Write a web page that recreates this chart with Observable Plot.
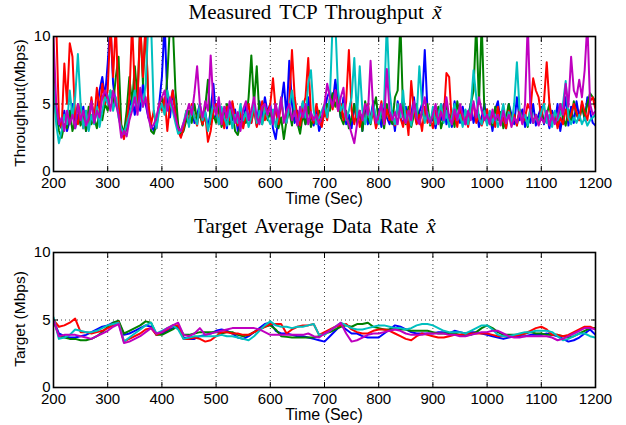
<!DOCTYPE html>
<html><head><meta charset="utf-8">
<script src="https://cdn.jsdelivr.net/npm/d3@7"></script>
<script src="https://cdn.jsdelivr.net/npm/@observablehq/plot@0.6"></script>
<style>
body{margin:0;background:#fff;}
#wrap{position:relative;width:626px;height:425px;overflow:hidden;font-family:"Liberation Sans",Arial,sans-serif;color:#000;}
.plot{position:absolute;left:0;}
.title{position:absolute;left:0;width:630px;text-align:center;font-family:"Liberation Serif","Times New Roman",serif;font-size:21px;line-height:20px;word-spacing:3px;white-space:nowrap;z-index:2;}
.xlab{position:absolute;left:0;width:648px;text-align:center;font-size:16px;line-height:14px;z-index:2;}
.ylab{position:absolute;width:200px;text-align:center;font-size:15.5px;line-height:16px;transform:rotate(-90deg);transform-origin:50% 50%;white-space:nowrap;z-index:2;}
</style>
</head><body>
<div id="wrap"></div>
<script>
// ---- data ----
const seriesNames = ["flow 1", "flow 2", "flow 3", "flow 4", "flow 5"];
const seriesColors = ["#0000ff", "#008000", "#ff0000", "#00bfbf", "#bf00bf"];
const xTicks = [200, 300, 400, 500, 600, 700, 800, 900, 1000, 1100, 1200];
const yTicks = [0, 5, 10];
const timeStart = 200;
const topStep = 5;     // seconds between samples, top panel
const bottomStep = 10; // seconds between samples, bottom panel

// Measured TCP throughput (Mbps), top panel
const topBlue = [6.5,4.0,3.5,3.2,4.5,3.0,3.8,5.0,3.2,4.2,3.5,4.8,3.0,4.0,5.2,3.6,4.5,6.0,7.0,5.5,
 8.0,11,6.5,5.0,4.5,3.0,2.6,3.2,4.8,5.5,4.2,6.0,4.5,6.5,5.0,4.0,3.5,3.0,3.8,5.0,
 7.0,11,5.5,4.0,6.0,4.5,3.0,2.6,3.2,4.0,3.5,4.8,3.6,4.2,5.0,3.5,4.4,3.2,4.5,6.5,
 4.0,5.2,3.6,4.5,3.2,5.0,3.8,4.6,3.0,4.2,3.5,5.0,4.0,3.6,4.8,3.4,5.2,4.0,5.5,4.4,
 5.0,3.2,2.4,4.0,5.0,6.6,4.0,8.2,5.0,3.6,4.5,3.3,4.8,3.5,5.5,4.2,3.4,4.6,3.0,3.6,
 4.5,5.5,6.0,5.0,6.8,5.2,4.0,5.5,3.5,4.2,3.2,5.0,3.6,4.4,3.0,4.8,3.5,4.0,5.2,3.4,
 4.6,3.3,5.0,4.0,3.5,4.5,3.0,5.2,4.0,3.5,4.8,3.2,4.2,5.5,3.6,4.4,5.0,9.0,4.5,3.5,
 4.0,3.2,4.6,3.8,5.0,3.5,4.2,3.3,5.2,4.0,3.6,4.8,3.5,4.2,5.0,3.6,4.5,3.3,4.0,5.0,
 3.5,4.2,3.0,4.6,5.2,3.6,4.0,3.2,5.0,4.2,3.5,5.5,3.8,4.6,3.3,4.0,3.6,5.0,3.4,4.2,
 4.8,3.5,4.2,3.2,4.5,3.6,5.0,3.0,4.2,5.5,3.4,4.8,3.6,5.2,4.0,5.0,3.8,5.5,4.4,3.6,
 3.4];
const topGreen = [7.5,4.5,3.0,2.5,3.5,3.2,4.5,3.0,3.8,5.0,3.4,4.2,3.0,4.8,3.5,4.0,3.2,4.5,3.8,5.0,
 4.5,6.0,5.0,7.0,8.5,3.5,2.8,4.5,7.0,5.0,7.8,5.5,11,6.5,11,5.0,3.0,2.8,3.5,4.8,
 5.5,4.5,7.0,11,11,6.0,3.5,2.7,3.0,3.8,4.5,3.6,5.0,3.8,4.2,3.4,4.8,6.8,3.5,4.2,
 3.6,4.8,3.3,4.0,5.0,3.5,4.5,3.0,2.7,3.5,4.2,3.6,5.5,8.6,5.0,7.8,4.0,3.5,4.6,3.8,
 4.4,3.5,5.0,3.2,4.0,2.4,3.8,4.5,3.4,5.2,3.6,2.8,4.2,3.5,4.8,3.3,4.0,3.6,4.5,3.8,
 4.2,5.0,4.5,5.8,4.8,5.5,4.0,3.5,4.5,3.2,4.0,5.0,3.6,4.5,3.0,5.2,4.0,3.5,4.6,5.5,
 3.6,4.4,3.2,5.0,4.0,3.5,5.5,6.0,11,4.5,3.5,4.8,3.3,4.2,5.0,3.6,4.5,3.8,5.0,3.4,
 4.2,3.6,4.8,3.2,4.0,5.0,3.5,4.4,3.3,5.2,4.0,3.6,4.5,3.8,5.0,6.0,11,5.0,11,4.5,
 3.6,4.2,3.4,4.8,3.8,4.4,3.2,4.0,5.0,3.6,4.2,3.4,4.6,3.8,4.2,3.3,4.8,3.6,4.2,3.5,
 4.5,3.6,4.2,5.0,3.5,4.4,3.6,5.0,4.0,3.4,4.6,3.8,5.2,4.2,3.8,4.8,4.0,5.0,5.8,5.5,
 5.2];
const topRed = [11,11,4.0,3.2,8.0,5.0,9.5,8.5,4.0,3.5,5.0,3.2,4.5,3.6,5.5,3.8,6.2,4.5,6.5,5.0,
 6.0,11,7.0,11,5.0,3.0,2.4,3.5,5.5,11,6.0,5.0,11,7.0,11,5.0,3.5,4.5,3.2,5.0,
 4.5,5.5,3.0,5.0,6.0,4.2,3.0,2.5,3.2,4.5,3.6,5.0,4.0,3.4,4.8,3.5,4.2,2.2,3.0,4.5,
 5.0,3.5,4.4,3.2,4.8,3.8,5.2,4.0,3.4,4.5,3.2,4.2,5.0,3.6,4.6,3.3,4.0,5.2,3.8,4.4,
 5.0,6.9,4.5,3.5,5.2,4.0,3.6,5.0,9.0,5.5,4.0,3.4,4.8,5.5,8.4,4.2,3.6,5.0,4.0,3.3,
 4.5,3.8,5.5,4.6,6.0,4.5,5.0,3.8,5.2,9.0,4.5,3.5,4.8,3.3,4.2,3.6,5.0,3.8,4.4,3.2,
 4.0,5.2,3.5,4.6,3.8,4.2,3.4,5.0,4.0,3.3,4.5,2.7,6.7,4.5,3.5,4.2,3.0,4.8,3.6,4.0,
 3.2,4.5,3.6,5.0,4.0,7.3,7.0,3.5,4.2,3.3,4.8,3.8,4.2,3.3,4.5,5.0,3.6,4.2,3.4,4.0,
 4.6,3.5,4.2,3.3,4.8,3.6,4.0,3.2,4.5,3.8,4.2,3.4,4.6,3.6,4.0,5.0,4.5,6.9,6.0,5.5,
 4.0,5.2,8.1,5.0,3.8,4.4,3.2,4.0,3.5,4.6,3.8,4.2,5.0,4.4,3.8,5.2,4.4,3.8,5.2,5.5,
 4.6];
const topCyan = [6.5,3.5,2.1,3.0,4.2,3.5,6.0,4.0,5.5,8.7,5.0,3.2,4.5,3.0,4.2,3.5,4.8,3.3,4.5,5.5,
 5.0,6.0,4.5,5.5,4.0,3.2,2.8,3.5,4.2,5.0,6.0,4.5,5.5,4.8,6.5,11,11,4.5,3.2,4.5,
 5.0,4.2,6.0,5.0,4.5,3.6,2.8,3.0,3.6,4.5,3.3,4.8,4.0,3.5,5.0,3.8,4.4,3.0,4.0,5.0,
 4.5,3.5,4.8,4.0,3.4,4.6,3.2,4.2,3.6,5.0,3.8,4.4,3.3,4.0,5.0,3.6,4.5,3.5,4.8,4.0,
 3.5,4.6,3.3,4.2,5.5,4.0,3.6,4.8,6.0,4.5,3.5,4.2,5.2,4.0,6.5,7.5,4.5,3.5,4.0,4.5,
 5.0,4.0,5.5,11,11,6.0,4.5,5.0,3.8,4.5,5.5,8.4,4.0,7.8,4.5,3.5,4.8,3.6,5.0,4.0,
 3.5,4.5,5.0,11,6.0,4.2,3.5,5.0,4.0,6.0,3.6,4.5,3.4,5.0,4.0,7.8,5.0,3.6,4.4,3.5,
 4.8,3.5,4.2,5.0,3.6,4.5,3.3,4.0,5.0,3.8,4.2,3.3,4.6,3.5,4.8,7.5,5.5,4.0,3.5,4.5,
 3.4,4.5,3.6,4.2,3.3,4.0,5.0,3.6,4.4,3.5,5.0,8.1,4.5,3.8,4.2,3.4,4.6,3.6,4.0,3.5,
 4.4,5.0,3.6,4.2,3.3,4.5,3.8,4.2,5.0,6.7,4.0,3.5,4.0,3.6,4.2,3.5,4.0,3.4,3.8,4.0,
 4.2];
const topMagenta = [10,5.0,3.5,4.0,3.0,4.5,3.5,4.2,3.2,5.0,3.8,4.5,3.4,4.0,5.2,3.6,4.5,4.0,5.5,6.0,
 5.5,4.5,6.0,5.0,4.2,2.5,3.0,2.6,3.8,4.5,5.5,4.2,6.2,4.8,5.5,4.0,3.2,3.5,4.0,5.0,
 5.5,6.0,4.5,5.5,4.8,4.0,3.2,3.0,3.6,4.2,5.0,4.2,5.8,7.8,5.0,4.0,5.2,4.5,8.6,5.0,
 4.2,5.5,3.5,4.8,4.0,5.2,4.5,3.6,4.4,3.0,4.6,5.2,3.8,4.5,5.5,4.0,3.5,4.8,5.0,4.2,
 4.8,3.5,5.0,4.0,5.5,3.6,4.5,5.0,3.8,4.5,3.4,4.8,4.0,5.0,3.5,4.4,3.8,4.2,3.5,4.0,
 5.0,6.5,5.5,4.8,6.0,4.5,5.5,6.2,4.0,3.5,2.8,2.1,3.5,4.5,3.8,5.0,4.2,8.2,4.5,3.6,
 4.2,5.0,3.5,7.6,4.5,3.8,4.4,3.5,5.0,4.0,3.6,4.5,3.8,5.2,4.0,3.5,4.5,5.5,4.0,3.6,
 4.2,5.0,3.5,4.4,3.8,5.5,4.0,3.5,4.6,3.8,5.0,4.2,3.5,4.5,3.8,5.2,4.0,5.5,4.5,3.8,
 4.2,3.5,4.6,3.8,4.2,3.4,4.5,3.6,4.2,3.3,4.0,3.6,4.4,3.5,5.0,11,4.5,3.6,4.2,3.4,
 4.0,3.6,4.5,3.4,4.2,3.5,4.0,5.0,4.2,6.5,4.8,8.5,6.0,5.5,6.8,5.5,7.5,11,5.0,4.2,
 4.5];

// Target average data rate (Mbps), bottom panel
const botBlue = [5.0,4.0,3.8,3.7,3.7,3.8,3.9,4.1,4.3,4.5,
 4.6,4.8,4.9,3.9,4.0,4.2,4.4,4.6,4.5,3.9,
 4.0,4.2,4.4,4.5,3.7,3.6,3.6,3.8,3.9,4.0,
 4.2,4.3,4.2,4.0,3.7,3.6,3.8,4.1,4.4,4.7,
 4.8,4.2,4.0,4.0,3.9,3.8,3.8,3.7,3.6,3.5,
 3.4,3.8,4.2,4.6,4.3,4.0,4.0,3.8,3.7,3.7,
 3.7,4.0,4.3,4.6,4.5,4.3,4.1,4.0,4.0,4.0,
 4.0,4.1,4.1,4.0,4.2,4.1,4.0,4.1,4.1,4.0,
 3.9,3.8,3.7,3.6,3.7,3.8,3.8,3.8,3.9,3.9,
 3.9,4.0,3.9,3.8,3.6,3.4,3.5,3.7,4.0,4.3,
 3.9];
const botGreen = [5.0,3.8,3.7,3.6,3.6,3.5,3.5,3.6,3.8,4.1,
 4.5,4.8,4.95,4.0,4.2,4.4,4.6,4.9,4.8,3.9,
 3.9,4.1,4.3,4.6,3.9,3.9,4.0,4.1,4.1,4.1,
 4.1,4.0,4.1,4.1,3.9,3.8,3.9,4.1,4.3,4.5,
 4.6,4.3,3.8,3.75,3.7,3.7,3.7,3.7,3.7,3.8,
 4.0,4.1,4.3,4.5,4.6,4.5,4.7,4.7,4.8,4.5,
 4.4,4.3,4.3,4.4,4.3,4.3,4.2,4.2,4.2,4.2,
 4.1,4.0,4.0,4.0,4.0,3.9,3.85,3.9,4.1,4.4,
 4.6,4.4,4.1,3.9,3.9,3.9,3.9,4.0,4.1,4.0,
 4.0,3.9,3.9,3.9,3.8,3.7,3.8,4.0,4.2,4.4,
 4.4];
const botRed = [5.0,4.5,4.6,4.8,5.1,4.1,4.1,4.0,4.1,4.2,
 4.4,4.6,4.85,3.4,3.6,3.8,4.0,4.3,4.4,3.9,
 4.1,4.3,4.6,4.6,3.6,3.6,3.7,3.6,3.4,3.5,
 3.8,4.1,4.1,4.0,4.0,3.9,3.9,4.1,4.3,4.5,
 4.7,4.7,4.7,4.0,4.3,4.5,4.6,4.6,4.7,3.9,
 4.1,4.3,4.5,4.6,4.7,4.3,4.1,4.0,4.0,4.2,
 4.3,4.3,4.2,4.0,3.8,3.6,3.5,3.8,4.0,3.9,
 3.8,3.7,3.7,3.8,3.9,3.9,4.0,4.0,4.0,4.0,
 4.0,3.9,3.8,3.8,3.8,3.8,3.9,4.0,4.2,4.4,
 4.5,4.3,3.9,3.9,3.8,3.9,4.1,4.3,4.5,4.5,
 4.3];
const botCyan = [5.2,3.6,3.7,3.9,4.3,4.2,4.1,4.1,4.2,4.4,
 4.6,4.7,4.8,3.4,3.7,4.0,4.3,4.6,4.8,4.0,
 4.2,4.4,4.6,4.3,3.6,3.7,3.8,3.8,3.8,3.8,
 3.8,3.9,3.8,3.8,3.7,3.6,3.5,3.8,4.2,4.6,
 4.9,4.6,4.5,4.5,4.4,4.5,4.5,4.6,4.7,3.9,
 3.9,4.2,4.5,4.8,4.6,4.4,4.3,4.3,4.4,4.5,
 4.6,4.6,4.5,4.4,4.4,4.3,4.4,4.6,4.7,4.7,
 4.6,4.4,4.2,4.1,4.1,4.1,4.0,4.2,4.4,4.6,
 4.6,4.3,3.9,3.8,3.8,3.9,4.0,4.1,4.1,4.2,
 4.2,4.2,4.1,3.8,3.5,3.6,3.8,4.0,4.0,3.8,
 3.7];
const botMagenta = [5.0,3.8,3.9,3.9,3.9,3.8,3.7,3.6,3.8,4.0,
 4.2,4.5,4.7,3.3,3.4,3.6,3.8,4.1,4.4,4.0,
 4.1,4.4,4.6,4.8,3.9,3.8,4.0,4.4,3.9,4.0,
 4.1,4.2,4.3,4.4,4.4,4.4,4.4,4.4,4.3,4.1,
 3.9,3.9,3.9,3.9,3.9,3.9,3.9,4.0,3.8,3.7,
 4.0,4.2,4.5,4.8,4.0,3.4,3.5,3.7,3.9,4.0,
 4.0,4.1,4.2,4.3,4.2,4.0,3.9,3.9,3.9,4.0,
 4.0,4.0,4.0,3.9,3.9,3.8,3.8,3.9,4.0,4.1,
 4.1,4.2,4.2,4.0,3.8,3.7,3.7,3.8,3.8,3.8,
 3.8,3.8,3.7,3.5,3.6,3.8,4.0,4.2,4.4,4.4,
 4.3];

// ---- build ----
function toRows(arrs, step) {
  const out = [];
  arrs.forEach((a, k) => a.forEach((v, i) => out.push({t: timeStart + step * i, v, s: seriesNames[k]})));
  return out;
}

function chart(data, h, mt, mb) {
  return Plot.plot({
    width: 626, height: h,
    marginTop: mt, marginBottom: mb, marginLeft: 53, marginRight: 31,
    x: {domain: [200, 1200]},
    y: {domain: [0, 10]},
    color: {type: "ordinal", domain: seriesNames, range: seriesColors},
    style: {fontFamily: '"Liberation Sans", Arial, sans-serif', fontSize: "15px", color: "#000", background: "transparent", overflow: "visible"},
    marks: [
      Plot.gridX(xTicks.slice(1, -1), {stroke: "#444", strokeOpacity: 1, strokeDasharray: "1,3"}),
      Plot.gridY([5], {stroke: "#444", strokeOpacity: 1, strokeDasharray: "1,3"}),
      Plot.lineY(data, {x: "t", y: "v", z: "s", stroke: "s", strokeWidth: 2, clip: true}),
      Plot.axisX(xTicks, {anchor: "bottom", tickSize: -5, tickPadding: 11, tickFormat: d => String(d), label: null}),
      Plot.axisX(xTicks, {anchor: "top", tickSize: -5, tickFormat: () => "", label: null}),
      Plot.axisY(yTicks, {anchor: "left", tickSize: -5, tickPadding: 8, tickFormat: d => String(d), label: null}),
      Plot.axisY(yTicks, {anchor: "right", tickSize: -5, tickFormat: () => "", label: null}),
      Plot.frame({stroke: "#000", strokeWidth: 1.6})
    ]
  });
}

const wrap = document.getElementById("wrap");
const p1 = chart(toRows([topBlue, topGreen, topRed, topCyan, topMagenta], topStep), 212, 36, 41);
p1.classList.add("plot"); p1.style.top = "0px";
const p2 = chart(toRows([botBlue, botGreen, botRed, botCyan, botMagenta], bottomStep), 212, 39, 38);
p2.classList.add("plot"); p2.style.top = "213px";
wrap.appendChild(p1);
wrap.appendChild(p2);

function addDiv(cls, html, css) {
  const d = document.createElement("div");
  d.className = cls; d.innerHTML = html;
  Object.assign(d.style, css);
  wrap.appendChild(d);
}
addDiv("title", "Measured TCP Throughput <i>x&#x303;</i>", {top: "2px"});
addDiv("title", "Target Average Data Rate <i>x&#x302;</i>", {top: "216px"});
addDiv("xlab", "Time (Sec)", {top: "192px"});
addDiv("xlab", "Time (Sec)", {top: "408px"});
addDiv("ylab", "Throughput(Mbps)", {left: "-80px", top: "95px"});
addDiv("ylab", "Target (Mbps)", {left: "-80px", top: "311px"});
</script>
</body></html>
